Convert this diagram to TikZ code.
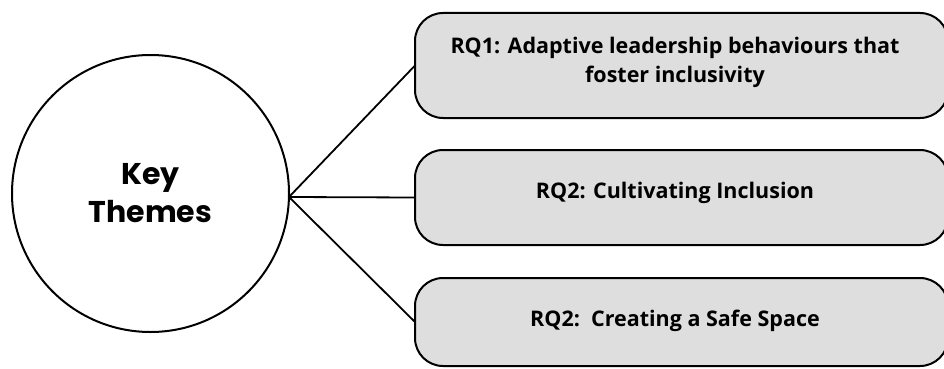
\documentclass[tikz,border=0pt]{standalone}
\usepackage{fontspec}
\setmainfont{Open Sans}
\newfontfamily\keyfont{Poppins}
\definecolor{boxgray}{HTML}{DEDEDE}
\begin{document}
\begin{tikzpicture}[x=1pt,y=-1pt,
  themebox/.style={draw=black, line width=2pt, fill=boxgray, rounded corners=28pt},
  boxtext/.style={font=\fontsize{21.5}{29}\selectfont\bfseries, align=center, text=black},
  link/.style={draw=black, line width=1.8pt}]
\useasboundingbox (0,0) rectangle (944,369);
\node[circle, draw=black, line width=2pt, minimum size=277pt, inner sep=0pt,
  font=\keyfont\fontsize{30}{38}\selectfont\bfseries, align=center] (hub) at (150.5,193.5) {Key\\Themes};
\path[themebox] (415,13) rectangle (948,118);
\path[themebox] (415,150) rectangle (948,245);
\path[themebox] (415,278) rectangle (948,366);
\coordinate (b1) at (415,65.5);
\coordinate (b2) at (415,197.5);
\coordinate (b3) at (415,322);
\coordinate (hubE) at (289,197);
\node[boxtext] (t1) at (675,62) {RQ1: Adaptive leadership behaviours that\\foster inclusivity};
\node[boxtext] (t2) at (675,193) {RQ2: Cultivating Inclusion};
\node[boxtext] (t3) at (675,321) {RQ2:\ \ Creating a Safe Space};
\draw[link] (hubE) -- (b1);
\draw[link] (hubE) -- (b2);
\draw[link] (hubE) -- (b3);
\end{tikzpicture}
\end{document}
